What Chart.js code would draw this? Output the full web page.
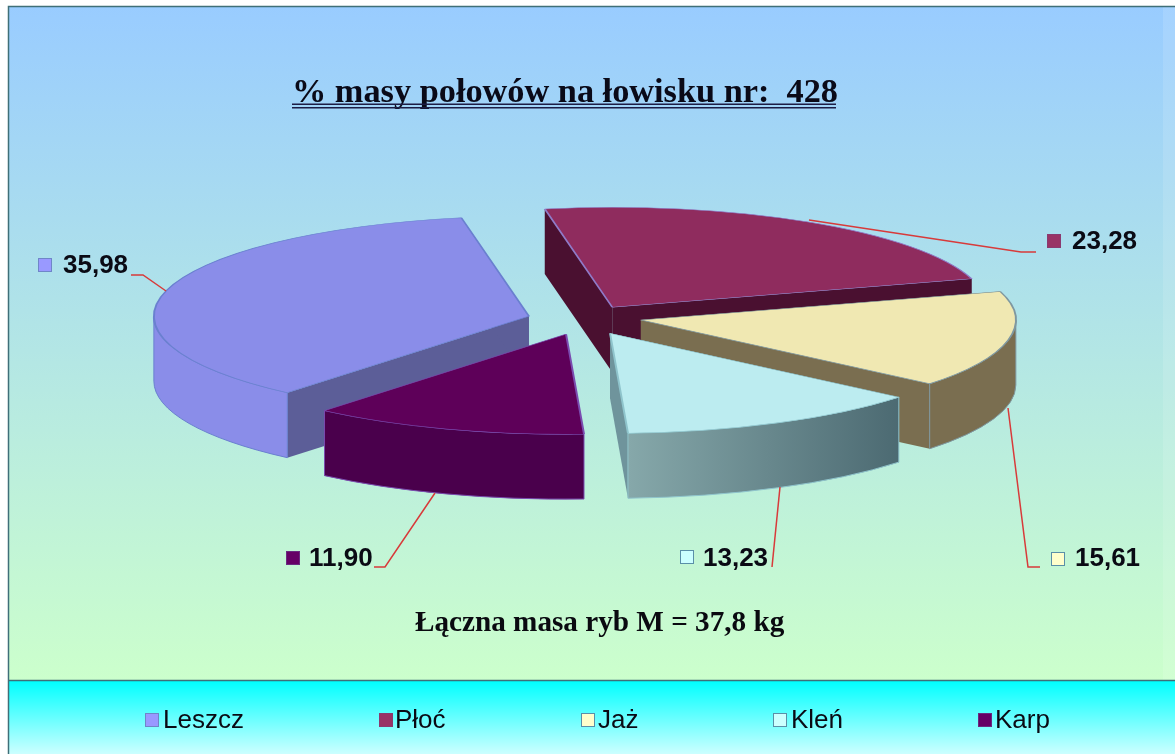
<!DOCTYPE html>
<html><head><meta charset="utf-8">
<style>html,body{margin:0;padding:0;background:#fff;overflow:hidden}canvas{display:block}</style>
<script src="https://cdn.jsdelivr.net/npm/chart.js@4"></script>
</head><body><canvas id="c" width="1175" height="754"></canvas>
<script>
const categories = ['Leszcz','Płoć','Jaż','Kleń','Karp'];
const values = [35.98,23.28,15.61,13.23,11.90];
const valueLabels = ['35,98','23,28','15,61','13,23','11,90'];
const titleText = '% masy połowów na łowisku nr:  428';
const noteText = 'Łączna masa ryb M = 37,8 kg';

const topColors   = ['#8a8de9','#8f2c5e','#f0e8b2','#bcecf0','#5e0059'];
const sideStart   = ['#8a8de9','#4a1030','#7a6e50','#86a8aa','#4a004c'];
const sideEnd     = ['#8a8de9','#4a1030','#7a6e50','#4c6a72','#4a004c'];
const wallColors  = ['#5c5e98','#4a1030','#7a6e50','#6f949c','#4a004c'];
const edgeColors  = ['#6a80d0','#8f7ac8','#7f98a0','#8fc4cc','#7a4cb0'];
const markFill    = ['#9999ff','#993366','#ffffcc','#ccffff','#660066'];
const markEdge    = ['#6f86c8','#8a3a70','#5a8fa8','#5a8fa8','#6a2a80'];

// Layout of the annotations (not data)
const SQUASH = 100/375, DEPTH = 65, EXPLODE = 56;
const nudgeX = [0,0,3,2,1], nudgeY = [0,0,-3,0,0];
const labelPos = [
  {mx:38,  my:258, tx:63,   ty:273, line:[[131,275],[143,275],[166,291]]},
  {mx:1047,my:234, tx:1072, ty:249, line:[[1036,252],[1021,252],[809,220]]},
  {mx:1051,my:552, tx:1075, ty:566, line:[[1040,567],[1028,567],[1008,408]]},
  {mx:680, my:550, tx:703,  ty:566, line:[[772,567],[780,487]]},
  {mx:286, my:551, tx:309,  ty:566, line:[[374,567],[385,567],[435,493]]}
];
const legendPos = [[145,163],[379,395],[581,598],[773,791],[978,995]];

function slicePlace(a,i){
  const mid=(a.startAngle+a.endAngle)/2;
  return {cx:a.x+Math.cos(mid)*EXPLODE+nudgeX[i], cy:a.y+Math.sin(mid)*EXPLODE*SQUASH+nudgeY[i]};
}
function drawPrism(ctx,a,i){
  const {cx,cy}=slicePlace(a,i), R=a.outerRadius, ry=R*SQUASH;
  const pt=t=>[cx+R*Math.cos(t),cy+ry*Math.sin(t)];
  ctx.fillStyle=wallColors[i];
  for(const t of [a.startAngle,a.endAngle]){
    const p=pt(t);
    ctx.beginPath();ctx.moveTo(cx,cy);ctx.lineTo(p[0],p[1]);ctx.lineTo(p[0],p[1]+DEPTH);ctx.lineTo(cx,cy+DEPTH);ctx.closePath();ctx.fill();
  }
  const s=pt(a.startAngle), e=pt(a.endAngle);
  const g=ctx.createLinearGradient(Math.min(s[0],e[0]),0,Math.max(s[0],e[0]),0);
  g.addColorStop(0,sideStart[i]);g.addColorStop(1,sideEnd[i]);
  ctx.fillStyle=g;
  ctx.strokeStyle=edgeColors[i];ctx.lineWidth=1;
  // only the front half of the rim (0..PI on the canvas) is seen
  for(let k=-2;k<=2;k++){
    const from=Math.max(a.startAngle,2*Math.PI*k), to=Math.min(a.endAngle,Math.PI+2*Math.PI*k);
    if(to<=from) continue;
    ctx.beginPath();
    ctx.ellipse(cx,cy,R,ry,0,from,to);
    ctx.ellipse(cx,cy+DEPTH,R,ry,0,to,from,true);
    ctx.closePath();ctx.fill();ctx.stroke();
  }
  ctx.save();
  ctx.translate(cx,cy);ctx.scale(1,SQUASH);ctx.translate(-a.x,-a.y);
  a.draw(ctx);
  ctx.restore();
}
const pie3d={
  id:'pie3d',
  beforeDraw(chart){
    const ctx=chart.ctx,W=chart.width,H=chart.height;
    ctx.save();
    ctx.fillStyle='#fff';ctx.fillRect(0,0,W,H);
    let g=ctx.createLinearGradient(0,6,0,681);
    g.addColorStop(0,'#99ccff');g.addColorStop(1,'#ccffcc');
    ctx.fillStyle=g;ctx.fillRect(8,6,W-8,675);
    ctx.fillStyle='rgba(255,255,255,0.12)';ctx.fillRect(1163,7,W-1163,673);
    g=ctx.createLinearGradient(0,681,0,754);
    g.addColorStop(0,'#00ffff');g.addColorStop(1,'#ccffff');
    ctx.fillStyle=g;ctx.fillRect(8,681,W-8,73);
    ctx.strokeStyle='#3f6f78';ctx.lineWidth=1.5;
    ctx.beginPath();ctx.moveTo(8.5,754);ctx.lineTo(8.5,6.5);ctx.lineTo(W,6.5);ctx.moveTo(8,680.5);ctx.lineTo(W,680.5);ctx.stroke();
    ctx.restore();
  },
  beforeDatasetDraw(chart,args){
    const ctx=chart.ctx;
    args.meta.data.forEach((a,i)=>drawPrism(ctx,a,i));
    return false;
  },
  afterDraw(chart){
    const ctx=chart.ctx;
    ctx.save();
    ctx.textBaseline='alphabetic';ctx.textAlign='left';
    ctx.fillStyle='#0a0a18';
    ctx.font='bold 34.3px "Liberation Serif"';
    ctx.fillText(titleText,292,102);
    ctx.fillStyle='#1c1c44';ctx.fillRect(292,103.5,544,1.5);ctx.fillRect(292,107,544,1.5);
    ctx.fillStyle='#0a0a10';
    ctx.font='bold 29.2px "Liberation Serif"';
    ctx.fillText(noteText,415,631);
    labelPos.forEach((p,i)=>{
      ctx.strokeStyle='#d83a3a';ctx.lineWidth=1.5;
      ctx.beginPath();p.line.forEach((q,j)=>j?ctx.lineTo(q[0],q[1]):ctx.moveTo(q[0],q[1]));ctx.stroke();
      ctx.fillStyle=markFill[i];ctx.fillRect(p.mx,p.my,14,14);
      ctx.strokeStyle=markEdge[i];ctx.lineWidth=1;ctx.strokeRect(p.mx+.5,p.my+.5,13,13);
      ctx.fillStyle='#0a0a14';ctx.font='bold 26px "Liberation Sans"';
      ctx.fillText(valueLabels[i],p.tx,p.ty);
    });
    categories.forEach((c,i)=>{
      const [bx,tx]=legendPos[i];
      ctx.fillStyle=markFill[i];ctx.fillRect(bx,713,14,14);
      ctx.strokeStyle=markEdge[i];ctx.lineWidth=1;ctx.strokeRect(bx+.5,713.5,13,13);
      ctx.fillStyle='#0a0a14';ctx.font='26px "Liberation Sans"';
      ctx.fillText(c,tx,728);
    });
    ctx.restore();
  }
};
new Chart(document.getElementById('c'),{
  type:'pie',
  data:{labels:categories,datasets:[{data:values,backgroundColor:topColors,borderColor:edgeColors,borderWidth:2}]},
  options:{
    responsive:false,animation:false,
    radius:375,rotation:220.1,
    layout:{padding:{right:9,bottom:114}},
    events:[],
    plugins:{legend:{display:false},title:{display:false},tooltip:{enabled:false}}
  },
  plugins:[pie3d]
});
</script></body></html>
